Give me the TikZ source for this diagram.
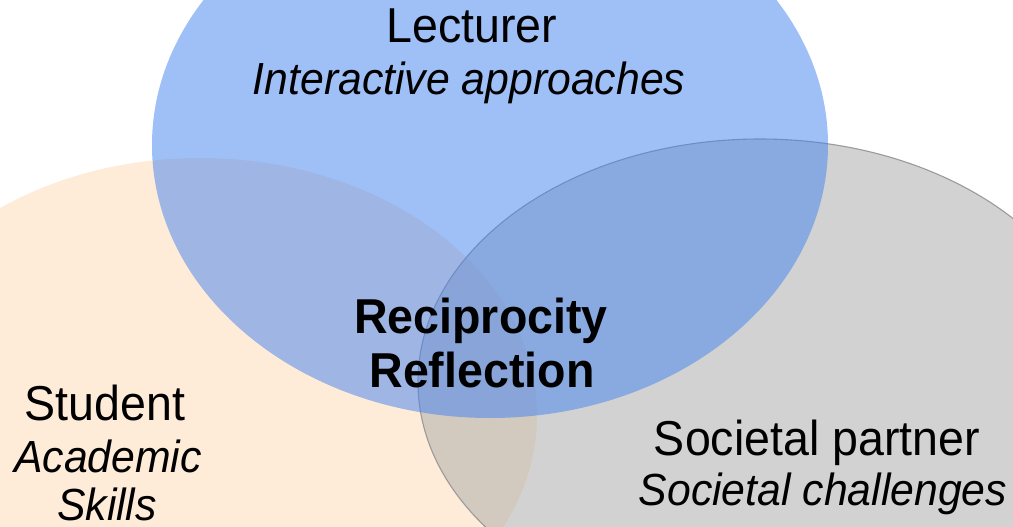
\documentclass[tikz,border=0pt]{standalone}
\usepackage{fontspec}
\setmainfont{Liberation Sans}[FakeStretch=0.95]
\definecolor{beigeC}{RGB}{254,236,216}
\definecolor{grayC}{RGB}{167,167,167}
\definecolor{grayEdge}{RGB}{155,155,155}
\definecolor{blueC}{RGB}{65,129,241}
\tikzset{
  setA/.style={fill=beigeC},
  setB/.style={fill=grayC, fill opacity=0.5, draw=grayEdge, line width=1.1pt},
  setC/.style={fill=blueC, fill opacity=0.5},
  titletext/.style={inner sep=0pt, anchor=base, font=\fontsize{49}{52}\selectfont},
  subtext/.style={inner sep=0pt, anchor=base, font=\fontsize{45}{52}\selectfont\itshape},
  centertext/.style={inner sep=0pt, anchor=base, font=\fontsize{49}{52}\selectfont\bfseries},
}
\begin{document}
\begin{tikzpicture}[x=1pt,y=-1pt]
\useasboundingbox (0,0) rectangle (1013,527);
\clip (0,0) rectangle (1013,527);
\fill[white] (0,0) rectangle (1013,527);
% Student set
\path[setA] (200,415) ellipse [x radius=337pt, y radius=257pt];
% Societal partner set
\path[setB] (760,382) ellipse [x radius=342pt, y radius=243pt];
% Lecturer set
\path[setC] (490,145) ellipse [x radius=338pt, y radius=273pt];
% texts
\node[titletext] (lect) at (472,43) {Lecturer};
\node[subtext] (lectsub) at (469,95) {Interactive approaches};
\node[centertext] (recip) at (481,333) {Reciprocity};
\node[centertext] (refl) at (482,387) {Reflection};
\node[titletext] (stud) at (105,420) {Student};
\node[subtext] (studa) at (108,472) {Academic};
\node[subtext] (studb) at (107,520) {Skills};
\node[titletext] (soc) at (817,455) {Societal partner};
\node[subtext] (socsub) at (823,505) {Societal challenges};
\end{tikzpicture}
\end{document}
